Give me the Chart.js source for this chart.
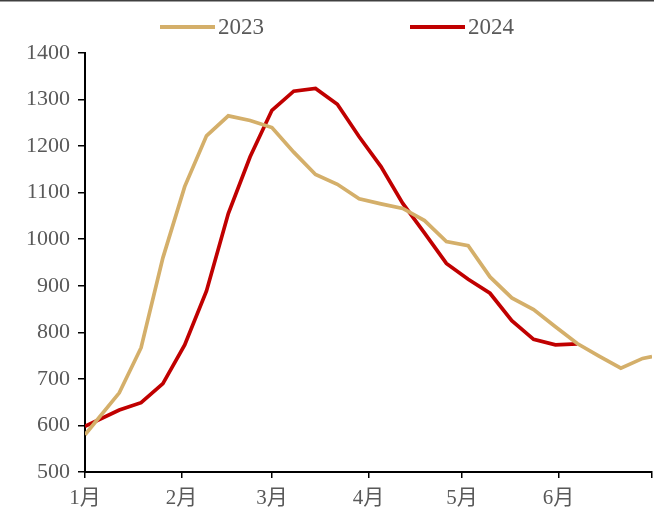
<!DOCTYPE html>
<html>
<head>
<meta charset="utf-8">
<script src="https://cdn.jsdelivr.net/npm/chart.js@4.4.0/dist/chart.umd.min.js"></script>
<style>
html, body { margin: 0; padding: 0; background: #fff; }
#wrap { width: 654px; height: 514px; }
</style>
</head>
<body>
<div id="wrap"><canvas id="chart" width="654" height="514"></canvas></div>
<script>
// day of year (0 = 1 Jan), weekly readings
const weekDays = [0, 11, 18, 25, 32, 39, 46, 53, 60, 67, 74, 81, 88, 95, 102, 109, 116, 123, 130, 137, 144, 151, 158, 165, 172, 179, 182];
const values2023 = [580, 670, 767, 960, 1113, 1222, 1265, 1255, 1240, 1187, 1139, 1118, 1087, 1076, 1066, 1040, 995, 986, 919, 874, 849, 812, 776, 749, 723, 744, 748];
const values2024 = [598, 633, 649, 690, 773, 889, 1055, 1177, 1277, 1318, 1324, 1290, 1220, 1156, 1077, 1013, 948, 914, 884, 825, 785, 773, 775];

const monthStarts = [0, 31, 60, 91, 121, 152, 182];
const monthLabels = ['1月', '2月', '3月', '4月', '5月', '6月', ''];

const serif = "'Liberation Serif', 'Times New Roman', 'Noto Sans CJK SC', serif";
const grey = '#595959';

function points(vals) {
    return vals.map((v, i) => ({ x: weekDays[i], y: v }));
}

// legend drawn by hand, the built-in one can't space items this wide
const topLegend = {
    id: 'topLegend',
    afterDraw(chart) {
        const ctx = chart.ctx;
        ctx.save();
        ctx.strokeStyle = '#404040';
        ctx.lineWidth = 1.5;
        ctx.beginPath();
        ctx.moveTo(0, 0.75);
        ctx.lineTo(chart.width, 0.75);
        ctx.stroke();

        const starts = [160, 410];
        ctx.font = '23px ' + serif;
        ctx.textBaseline = 'middle';
        ctx.fillStyle = grey;
        chart.data.datasets.forEach((ds, i) => {
            const x = starts[i];
            ctx.strokeStyle = ds.borderColor;
            ctx.lineWidth = 4;
            ctx.beginPath();
            ctx.moveTo(x, 27);
            ctx.lineTo(x + 55, 27);
            ctx.stroke();
            ctx.fillText(ds.label, x + 58, 28);
        });
        ctx.restore();
    }
};

new Chart(document.getElementById('chart'), {
    type: 'line',
    data: {
        datasets: [
            { label: '2023', data: points(values2023), borderColor: '#D4AF6A', borderWidth: 3.7, pointRadius: 0, tension: 0 },
            { label: '2024', data: points(values2024), borderColor: '#C00000', borderWidth: 3.7, pointRadius: 0, tension: 0 }
        ]
    },
    options: {
        responsive: false,
        animation: false,
        layout: { padding: { top: 53, right: 2, left: 0, bottom: 0 } },
        plugins: { legend: { display: false }, tooltip: { enabled: false } },
        scales: {
            x: {
                type: 'linear',
                min: 0,
                max: 182,
                afterBuildTicks: (scale) => { scale.ticks = monthStarts.map(v => ({ value: v })); },
                afterFit: (scale) => { scale.height = 42; scale.paddingRight = 0; scale.paddingLeft = 0; },
                ticks: {
                    autoSkip: false,
                    maxRotation: 0,
                    padding: 8,
                    color: grey,
                    font: { family: serif, size: 21 },
                    callback: (v) => monthLabels[monthStarts.indexOf(v)] || ''
                },
                grid: { drawOnChartArea: false, color: '#000', lineWidth: 1.5, tickLength: 6 },
                border: { color: '#000', width: 2 }
            },
            y: {
                min: 500,
                max: 1400,
                afterFit: (scale) => { scale.width = 85; },
                ticks: {
                    stepSize: 100,
                    padding: 8,
                    color: grey,
                    font: { family: serif, size: 22 },
                    callback: (v) => String(v)
                },
                grid: { drawOnChartArea: false, color: '#000', lineWidth: 1.5, tickLength: 7 },
                border: { color: '#000', width: 2 }
            }
        }
    },
    plugins: [topLegend]
});
</script>
</body>
</html>
